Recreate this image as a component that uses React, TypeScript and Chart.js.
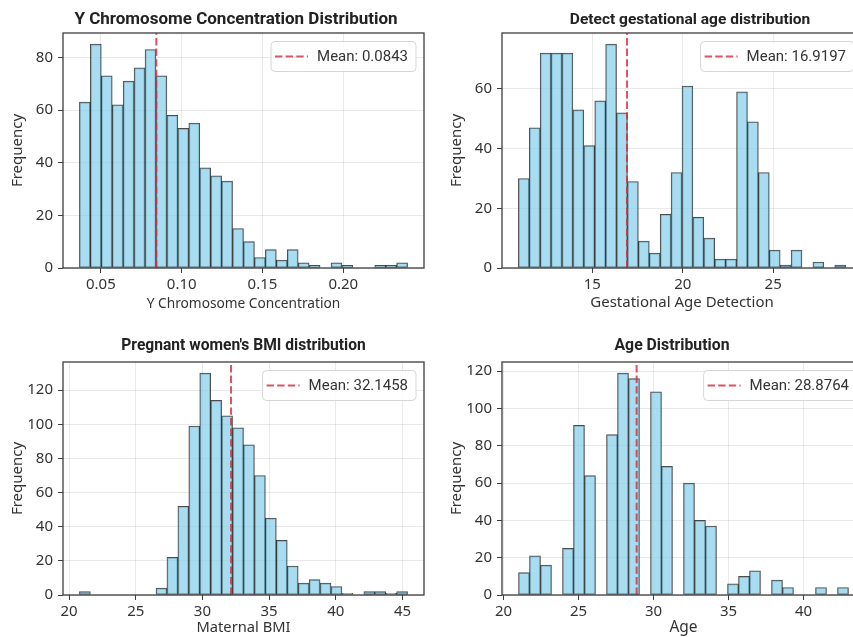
import React, { useEffect, useRef } from "react";
import { Chart, registerables } from "chart.js";

Chart.register(...registerables);

// ---------- Panel 1: Y chromosome concentration ----------
const yConcTitle = "Y Chromosome Concentration Distribution";
const yConcXLabel = "Y Chromosome Concentration";
const yConcRange = [0.0367, 0.2398];
const yConcCounts = [63, 85, 73, 62, 71, 76, 83, 73, 58, 53, 55, 38, 35, 33, 15, 10, 4, 7, 3, 7, 2, 1, 0, 2, 1, 0, 0, 1, 1, 2];
const yConcMean = 0.0843;
const yConcXStep = 0.05;
const yConcYStep = 20;

// ---------- Panel 2: gestational age ----------
const gaTitle = "Detect gestational age distribution";
const gaXLabel = "Gestational Age Detection";
const gaRange = [10.91, 29.01];
const gaCounts = [30, 47, 72, 72, 72, 53, 41, 56, 75, 52, 29, 9, 5, 18, 32, 61, 17, 10, 3, 3, 59, 49, 32, 6, 1, 6, 0, 2, 0, 1];
const gaMean = 16.9197;
const gaXStep = 5;
const gaYStep = 20;

// ---------- Panel 3: maternal BMI ----------
const bmiTitle = "Pregnant women's BMI distribution";
const bmiXLabel = "Maternal BMI";
const bmiRange = [20.78, 45.38];
const bmiCounts = [2, 0, 0, 0, 0, 0, 0, 4, 22, 52, 99, 130, 114, 105, 98, 88, 70, 45, 32, 17, 7, 9, 7, 5, 1, 0, 2, 2, 1, 2];
const bmiMean = 32.1458;
const bmiXStep = 5;
const bmiYStep = 20;

// ---------- Panel 4: age ----------
const ageTitle = "Age Distribution";
const ageXLabel = "Age";
const ageRange = [21, 43];
const ageCounts = [12, 21, 16, 0, 25, 91, 64, 0, 86, 119, 116, 0, 109, 69, 0, 60, 40, 37, 0, 6, 10, 13, 0, 8, 4, 0, 0, 4, 0, 4];
const ageMean = 28.8764;
const ageXStep = 5;
const ageYStep = 20;

const yLabel = "Frequency";

const BAR_FILL = "rgba(135,206,235,0.72)";
const BAR_EDGE = "rgba(0,0,0,0.7)";
const MEAN_COLOR = "rgba(214,45,60,0.82)";
const SPINE = "#3d3d3d";
const TEXT = "#333";
const GRID = "rgba(0,0,0,0.085)";

const decorPlugin = {
  id: "decor",
  afterDatasetsDraw(chart: any, _args: any, opts: any) {
    const { ctx, chartArea: a } = chart;
    ctx.save();
    // frame (all four spines)
    ctx.strokeStyle = SPINE;
    ctx.lineWidth = 1.3;
    ctx.strokeRect(a.left, a.top, a.right - a.left, a.bottom - a.top);
    // legend box
    ctx.font = "15px Roboto";
    const text = opts.legendText as string;
    const tw = ctx.measureText(text).width;
    const h = 30;
    const w = 4 + 33 + 9 + tw + 8;
    const x1 = a.right - 8;
    const x0 = x1 - w;
    const y0 = a.top + 8.5;
    ctx.beginPath();
    (ctx as any).roundRect(x0, y0, w, h, 4);
    ctx.fillStyle = "rgba(255,255,255,0.85)";
    ctx.fill();
    ctx.strokeStyle = "#d6d6d6";
    ctx.lineWidth = 1;
    ctx.stroke();
    const cy = y0 + h / 2;
    ctx.beginPath();
    ctx.setLineDash([7.4, 3.2]);
    ctx.strokeStyle = MEAN_COLOR;
    ctx.lineWidth = 2;
    ctx.moveTo(x0 + 4, cy);
    ctx.lineTo(x0 + 37, cy);
    ctx.stroke();
    ctx.setLineDash([]);
    ctx.fillStyle = TEXT;
    ctx.textBaseline = "middle";
    ctx.textAlign = "left";
    ctx.fillText(text, x0 + 46, cy + 0.5);
    ctx.restore();
  },
  afterDraw(chart: any, _args: any, opts: any) {
    const { ctx } = chart;
    ctx.save();
    ctx.font = `bold ${opts.titleSize}px Roboto`;
    ctx.fillStyle = "#222";
    ctx.textAlign = "center";
    ctx.textBaseline = "middle";
    ctx.fillText(opts.title, opts.titleX, opts.titleY);
    ctx.restore();
  },
};

type PanelProps = {
  left: number;
  top: number;
  width: number;
  height: number;
  plotTop: number;
  xAxisH: number;
  padBottom: number;
  title: string;
  titleX: number;
  titleY: number;
  titleSize: number;
  xLabel: string;
  xLabelSize: number;
  range: number[];
  counts: number[];
  mean: number;
  xStep: number;
  yStep: number;
  xDecimals: number;
};

function Panel(p: PanelProps) {
  const ref = useRef<HTMLCanvasElement | null>(null);
  useEffect(() => {
    const canvas = ref.current;
    if (!canvas) return;
    const n = p.counts.length;
    const binW = (p.range[1] - p.range[0]) / n;
    const barData = p.counts.map((c, i) => ({ x: p.range[0] + binW * (i + 0.5), y: c }));
    const span = p.range[1] - p.range[0];
    const xMin = p.range[0] - 0.05 * span;
    const xMax = p.range[1] + 0.05 * span;
    const yMax = Math.max(...p.counts) * 1.05;
    const chart = new Chart(canvas, {
      type: "bar",
      data: {
        datasets: [
          {
            type: "bar",
            data: barData,
            backgroundColor: BAR_FILL,
            borderColor: BAR_EDGE,
            borderWidth: 1,
            borderSkipped: false,
            barPercentage: 1,
            categoryPercentage: 1,
            order: 1,
          } as any,
          {
            type: "line",
            data: [
              { x: p.mean, y: 0 },
              { x: p.mean, y: yMax },
            ],
            borderColor: MEAN_COLOR,
            borderWidth: 2,
            borderDash: [7.4, 3.2],
            pointRadius: 0,
            fill: false,
            order: 0,
          } as any,
        ],
      },
      options: {
        responsive: false,
        animation: false,
        devicePixelRatio: 1,
        layout: { padding: { left: 0, right: 6, top: p.plotTop, bottom: p.padBottom } },
        plugins: {
          legend: { display: false },
          tooltip: { enabled: false },
          title: { display: false },
          decor: {
            title: p.title,
            titleX: p.titleX,
            titleY: p.titleY,
            titleSize: p.titleSize,
            legendText: `Mean: ${p.mean.toFixed(4)}`,
          },
        } as any,
        scales: {
          x: {
            type: "linear",
            min: xMin,
            max: xMax,
            offset: false,
            grid: { offset: false, color: GRID, tickColor: SPINE, tickLength: 5, lineWidth: 1 },
            border: { display: false },
            ticks: {
              stepSize: p.xStep,
              includeBounds: false,
              autoSkip: false,
              maxRotation: 0,
              padding: 3,
              color: TEXT,
              font: { size: 15, family: "'Noto Sans'" },
              callback: (v: any) => Number(v).toFixed(p.xDecimals),
            },
            title: {
              display: true,
              text: p.xLabel,
              color: TEXT,
              font: { size: p.xLabelSize, family: "'Noto Sans'" },
              padding: { top: 0, bottom: 0 },
            },
            afterFit: (s: any) => {
              s.height = p.xAxisH;
            },
          },
          y: {
            type: "linear",
            min: 0,
            max: yMax,
            grid: { color: GRID, tickColor: SPINE, tickLength: 5, lineWidth: 1 },
            border: { display: false },
            ticks: {
              stepSize: p.yStep,
              includeBounds: false,
              padding: 5,
              color: TEXT,
              font: { size: 15, family: "'Noto Sans'" },
            },
            title: {
              display: true,
              text: yLabel,
              color: TEXT,
              font: { size: 15, family: "'Noto Sans'" },
              padding: { top: 9, bottom: 0 },
            },
            afterFit: (s: any) => {
              s.width = 63;
            },
          },
        },
      } as any,
      plugins: [decorPlugin as any],
    });
    return () => chart.destroy();
  }, []);
  return (
    <canvas
      ref={ref}
      width={p.width}
      height={p.height}
      style={{ position: "absolute", left: p.left, top: p.top, width: p.width, height: p.height }}
    />
  );
}

export default function App() {
  return (
    <div
      style={{
        position: "fixed",
        left: 0,
        top: 0,
        width: 853,
        height: 637,
        overflow: "hidden",
        background: "#fff",
      }}
    >
      <Panel
        left={0} top={0} width={430} height={320} plotTop={33} xAxisH={44} padBottom={8}
        title={yConcTitle} titleX={236} titleY={20} titleSize={17} xLabel={yConcXLabel} xLabelSize={13.7}
        range={yConcRange} counts={yConcCounts} mean={yConcMean} xStep={yConcXStep} yStep={yConcYStep} xDecimals={2}
      />
      <Panel
        left={439} top={0} width={429} height={320} plotTop={33} xAxisH={44} padBottom={8}
        title={gaTitle} titleX={251} titleY={20} titleSize={15.5} xLabel={gaXLabel} xLabelSize={15}
        range={gaRange} counts={gaCounts} mean={gaMean} xStep={gaXStep} yStep={gaYStep} xDecimals={0}
      />
      <Panel
        left={0} top={320} width={430} height={317} plotTop={42} xAxisH={42} padBottom={0}
        title={bmiTitle} titleX={243.5} titleY={26} titleSize={15.6} xLabel={bmiXLabel} xLabelSize={14.7}
        range={bmiRange} counts={bmiCounts} mean={bmiMean} xStep={bmiXStep} yStep={bmiYStep} xDecimals={0}
      />
      <Panel
        left={439} top={320} width={432} height={317} plotTop={42} xAxisH={42} padBottom={0}
        title={ageTitle} titleX={233} titleY={26} titleSize={15.8} xLabel={ageXLabel} xLabelSize={15.5}
        range={ageRange} counts={ageCounts} mean={ageMean} xStep={ageXStep} yStep={ageYStep} xDecimals={0}
      />
    </div>
  );
}
